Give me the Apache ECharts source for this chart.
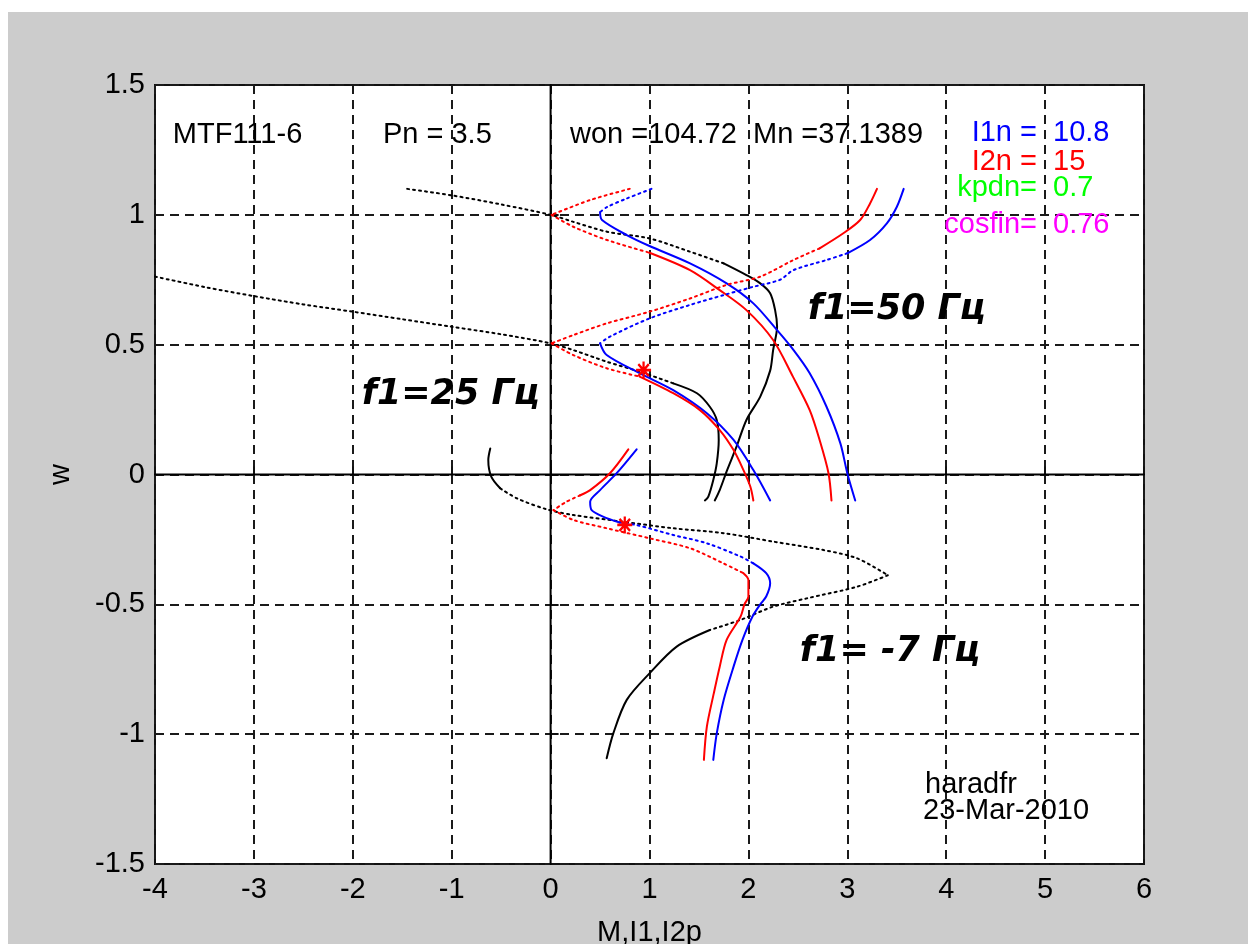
<!DOCTYPE html>
<html><head><meta charset="utf-8">
<script src="https://cdn.jsdelivr.net/npm/echarts@6.0.0/dist/echarts.min.js"></script>
<style>html,body{margin:0;padding:0;background:#fff;width:1248px;height:944px;overflow:hidden}
#c{position:absolute;left:8px;top:12px;width:1240px;height:932px;background:#cccccc}</style>
</head><body><div id="c"></div><script>
// ---- data: [M or I, w] ----
// f1 = 50 Hz
const M50_dot = [[-1.45,1.10],[-1.0,1.075],[-0.5,1.04],[0,1.0],[0.23,0.973],[0.57,0.935],[1.0,0.909],[1.41,0.858],[1.75,0.813]];
const M50_sol = [[1.75,0.813],[1.98,0.768],[2.12,0.736],[2.22,0.698],[2.27,0.633],[2.29,0.569],[2.25,0.479],[2.22,0.40],[2.12,0.30],[1.98,0.21],[1.88,0.107],[1.785,0.017],[1.71,-0.06],[1.66,-0.10]];
const I1_50_dot = [[1.02,1.10],[0.77,1.063],[0.57,1.03],[0.50,1.01]];
const I1_50_sol = [[0.50,1.01],[0.52,0.98],[0.77,0.922],[1.0,0.88],[1.41,0.813],[1.78,0.736],[2.05,0.659],[2.29,0.556],[2.455,0.48],[2.62,0.39],[2.79,0.261],[2.93,0.12],[3.0,0.005],[3.08,-0.10]];
const I2_50_gen = [[0.80,1.10],[0.40,1.057],[0.01,1.0]];
const I2_50_dot = [[0.01,1.0],[0.23,0.954],[0.57,0.903],[1.0,0.854]];
const I2_50_sol = [[1.0,0.854],[1.41,0.787],[1.71,0.71],[1.98,0.633],[2.25,0.518],[2.45,0.377],[2.62,0.248],[2.72,0.133],[2.81,0.005],[2.84,-0.10]];
// f1 = 25 Hz
const M25_dot = [[-4,0.762],[-3.5,0.722],[-3,0.687],[-2.5,0.655],[-2,0.627],[-1.5,0.598],[-1,0.569],[-0.5,0.54],[0,0.505],[0.23,0.479],[0.57,0.434],[0.90,0.396],[1.24,0.351]];
const M25_sol = [[1.24,0.351],[1.48,0.313],[1.61,0.261],[1.68,0.21],[1.70,0.133],[1.68,0.043],[1.645,-0.021],[1.595,-0.085],[1.56,-0.10]];
const I1_25_top = [[3.57,1.10],[3.50,1.03],[3.40,0.967],[3.23,0.903],[3.0,0.852]];
const I1_25_dot = [[3.0,0.852],[2.79,0.826],[2.455,0.787],[2.32,0.75],[2.05,0.723],[1.75,0.691],[1.41,0.653],[1.0,0.601],[0.60,0.531],[0.50,0.505]];
const I1_25_sol = [[0.50,0.505],[0.567,0.46],[0.90,0.39],[1.24,0.325],[1.58,0.236],[1.85,0.133],[2.05,0.017],[2.22,-0.10]];
const I2_25_top = [[3.30,1.10],[3.23,1.044],[3.13,0.98],[2.96,0.929],[2.72,0.871]];
const I2_25_gen = [[2.72,0.871],[2.455,0.826],[2.12,0.762],[1.78,0.73],[1.41,0.678],[1.0,0.627],[0.567,0.582],[0.23,0.537],[0.01,0.505]];
const I2_25_dot = [[0.01,0.505],[0.23,0.46],[0.567,0.409],[0.90,0.377]];
const I2_25_sol = [[0.90,0.377],[1.24,0.313],[1.51,0.248],[1.71,0.171],[1.85,0.094],[1.95,0.017],[2.02,-0.047],[2.05,-0.10]];
// f1 = -7 Hz
const M7_top = [[-0.61,0.10],[-0.63,0.056],[-0.60,-0.008],[-0.51,-0.053]];
const M7_dot = [[-0.51,-0.053],[-0.34,-0.092],[-0.04,-0.134],[0.23,-0.156],[0.735,-0.182],[1.24,-0.207],[1.75,-0.226],[2.26,-0.259],[2.76,-0.291],[3.10,-0.323],[3.41,-0.388]];
const M7_ret = [[3.41,-0.388],[3.10,-0.432],[2.59,-0.477],[2.25,-0.509],[1.92,-0.56],[1.61,-0.599]];
const M7_sol = [[1.61,-0.599],[1.275,-0.663],[1.0,-0.766],[0.77,-0.868],[0.634,-0.997],[0.567,-1.093]];
const I1_7_top = [[0.87,0.097],[0.668,0.005],[0.50,-0.06],[0.40,-0.105],[0.415,-0.137],[0.53,-0.162],[0.70,-0.185]];
const I1_7_dot = [[0.70,-0.185],[0.87,-0.195],[1.24,-0.233],[1.58,-0.265],[1.92,-0.316],[2.05,-0.342]];
const I1_7_sol = [[2.05,-0.342],[2.18,-0.38],[2.22,-0.419],[2.18,-0.47],[2.12,-0.50],[2.04,-0.548],[1.94,-0.637],[1.85,-0.74],[1.75,-0.868],[1.68,-0.997],[1.645,-1.099]];
const I2_7_top = [[0.786,0.097],[0.60,0.005],[0.40,-0.06],[0.30,-0.08]];
const I2_7_gen = [[0.30,-0.08],[0.16,-0.105],[0.03,-0.137]];
const I2_7_dot = [[0.03,-0.137],[0.23,-0.175],[0.567,-0.207],[1.005,-0.246],[1.41,-0.284],[1.746,-0.342],[1.95,-0.38]];
const I2_7_sol = [[1.95,-0.38],[2.0,-0.406],[2.0,-0.47],[1.96,-0.50],[1.92,-0.548],[1.78,-0.637],[1.71,-0.74],[1.65,-0.843],[1.58,-0.971],[1.55,-1.099]];
// markers (operating points)
const stars = [[0.94,0.402],[0.75,-0.194]];
// zero lines
const zeroH = [[-4,0],[6,0]];
const zeroV = [[0,-1.5],[0,1.5]];
// text annotations [text, M, w]
const headTexts = [["MTF111-6",-3.82,1.307],["Pn = 3.5",-1.695,1.307],["won =104.72  Mn =37.1389",0.196,1.307]];
const paramNames = [["I1n =",4.918,1.315,"#0000ff"],["I2n =",4.918,1.203,"#ff0000"],["kpdn=",4.918,1.103,"#00ff00"],["cosfin=",4.918,0.961,"#ff00ff"]];
const paramVals = [["10.8",5.08,1.315,"#0000ff"],["15",5.08,1.203,"#ff0000"],["0.7",5.08,1.103,"#00ff00"],["0.76",5.08,0.961,"#ff00ff"]];
const freqTexts = [["f1=50 Гц",2.60,0.633],["f1=25 Гц",-1.91,0.306],["f1= -7 Гц",2.52,-0.683]];
const footTexts = [["haradfr",3.786,-1.196],["23-Mar-2010",3.766,-1.296]];

const SANS = "'Liberation Sans', Arial, Helvetica, sans-serif";
const FS = 29;
function seg(data, color, dotted, width, smooth) {
  return {type:'line', data, symbol:'none', showSymbol:false, silent:true, animation:false, z:3,
    smooth: smooth === undefined ? 0.3 : smooth,
    lineStyle:{color, width: width||2, type: dotted ? [2,4] : 'solid', cap:'round', join:'round'}};
}
function textSeries(items, pos, styleFn) {
  return {type:'scatter', symbolSize:0, silent:true, animation:false, z:5, itemStyle:{opacity:1},
    data: items.map(t => ({value:[t[1],t[2]], name:t[0],
      label:Object.assign({show:true, position:pos, distance:0, formatter:t[0], opacity:1}, styleFn(t))}))};
}
const R='#ff0000', B='#0000ff', K='#000000';
const series = [
  seg(zeroH, K, false, 2, false), seg(zeroV, K, false, 2, false),
  seg(M50_dot, K, true), seg(M50_sol, K, false),
  seg(I1_50_dot, B, true), seg(I1_50_sol, B, false),
  seg(I2_50_gen, R, true), seg(I2_50_dot, R, true), seg(I2_50_sol, R, false),
  seg(M25_dot, K, true), seg(M25_sol, K, false),
  seg(I1_25_top, B, false), seg(I1_25_dot, B, true), seg(I1_25_sol, B, false),
  seg(I2_25_top, R, false), seg(I2_25_gen, R, true), seg(I2_25_dot, R, true), seg(I2_25_sol, R, false),
  seg(M7_top, K, false), seg(M7_dot, K, true), seg(M7_ret, K, true), seg(M7_sol, K, false),
  seg(I1_7_top, B, false), seg(I1_7_dot, B, true), seg(I1_7_sol, B, false),
  seg(I2_7_top, R, false), seg(I2_7_gen, R, true), seg(I2_7_dot, R, true), seg(I2_7_sol, R, false),
  {type:'scatter', data:stars, silent:true, animation:false, z:6, symbolSize:[15,17],
   symbol:'path://M-1.5,-10L1.5,-10L1.5,10L-1.5,10Z M-10,-1.5L10,-1.5L10,1.5L-10,1.5Z M-5.9,-8.1L8.1,5.9L5.9,8.1L-8.1,-5.9Z M-8.1,5.9L5.9,-8.1L8.1,-5.9L-5.9,8.1Z',
   itemStyle:{color:R, opacity:1}},
  textSeries(headTexts, 'right', t => ({color:'#000', fontSize:FS, fontFamily:SANS})),
  textSeries(paramNames, 'left', t => ({color:t[3], fontSize:FS, fontFamily:SANS})),
  textSeries(paramVals, 'right', t => ({color:t[3], fontSize:FS, fontFamily:SANS})),
  textSeries(freqTexts, 'right', t => ({color:'#000', fontSize:35, fontFamily:"'DejaVu Sans', sans-serif", fontWeight:'bold', fontStyle:'italic'})),
  textSeries(footTexts, 'right', t => ({color:'#000', fontSize:FS, fontFamily:SANS}))
];
const chart = echarts.init(document.getElementById('c'), null, {renderer:'canvas'});
const gridLine = {show:true, lineStyle:{color:'#1a1a1a', width:2, type:[9,6]}};
chart.setOption({
  backgroundColor:'#cccccc',
  animation:false,
  grid:{left:147, top:73, width:989, height:779, show:true, backgroundColor:'#ffffff', borderColor:'#111', borderWidth:2,
        outerBoundsMode:'none', containLabel:false},
  xAxis:{type:'value', min:-4, max:6, interval:1,
    name:'M,I1,I2p', nameLocation:'middle', nameGap:54, nameTextStyle:{color:'#000', fontSize:FS, fontFamily:SANS},
    axisLine:{show:false}, axisTick:{show:true, inside:true, length:8, lineStyle:{color:'#111', width:2}},
    axisLabel:{color:'#000', fontSize:FS, fontFamily:SANS, margin:11},
    splitLine:gridLine},
  yAxis:{type:'value', min:-1.5, max:1.5, interval:0.5,
    name:'w', nameLocation:'middle', nameGap:80, nameRotate:90, nameTextStyle:{color:'#000', fontSize:FS, fontFamily:SANS},
    axisLine:{show:false}, axisTick:{show:true, inside:true, length:8, lineStyle:{color:'#111', width:2}},
    axisLabel:{color:'#000', fontSize:FS, fontFamily:SANS, margin:10},
    splitLine:gridLine},
  series
});
</script></body></html>
